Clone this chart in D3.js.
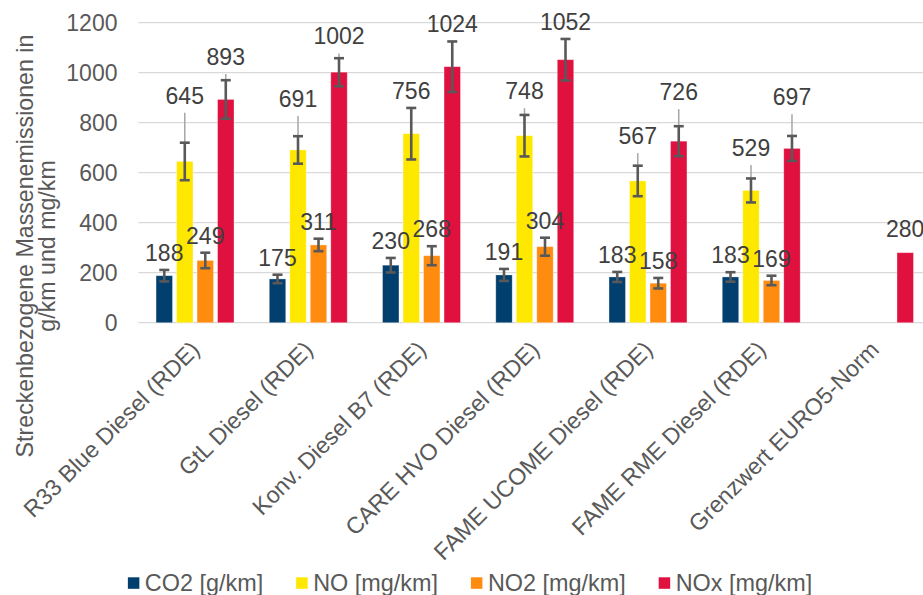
<!DOCTYPE html>
<html>
<head>
<meta charset="utf-8">
<script src="https://cdn.jsdelivr.net/npm/d3@7"></script>
<style>
  html, body { margin: 0; padding: 0; background: #fff; }
  svg { display: block; font-family: "Liberation Sans", Arial, sans-serif; }
</style>
</head>
<body>
<svg id="chart" width="923" height="595"></svg>
<script>
// Fuel variants (x categories)
const categories = [
  "R33 Blue Diesel (RDE)",
  "GtL Diesel (RDE)",
  "Konv. Diesel B7 (RDE)",
  "CARE HVO Diesel (RDE)",
  "FAME UCOME Diesel (RDE)",
  "FAME RME Diesel (RDE)",
  "Grenzwert EURO5-Norm"
];

// Series names shown in the legend
const seriesNames = ["CO2 [g/km]", "NO [mg/km]", "NO2 [mg/km]", "NOx [mg/km]"];
const seriesColors = ["#003f6e", "#ffe800", "#ff8c0f", "#e0103f"];

// Mean values per category
const co2 = [188, 175, 230, 191, 183, 183, null];
const no  = [645, 691, 756, 748, 567, 529, null];
const no2 = [249, 311, 268, 304, 158, 169, null];
const nox = [893, 1002, 1024, 1052, 726, 697, 280];

// Standard deviations (capped error bars)
const co2Err = [23, 17, 29, 24, 20, 19, null];
const noErr  = [75, 55, 103, 83, 61, 48, null];
const no2Err = [31, 25, 38, 36, 21, 19, null];
const noxErr = [77, 56, 101, 83, 60, 50, null];

// Maximum measured values (thin whisker above the bar)
const co2Max = [null, null, null, null, null, null, null];
const noMax  = [840, 827, null, 858, 678, 631, null];
const no2Max = [null, null, null, null, null, null, null];
const noxMax = [995, 1077, null, null, 854, 834, null];

const yTicks = [0, 200, 400, 600, 800, 1000, 1200];

const values = [co2, no, no2, nox];
const errors = [co2Err, noErr, no2Err, noxErr];
const maxima = [co2Max, noMax, no2Max, noxMax];

const svg = d3.select("#chart");

const y = d3.scaleLinear().domain([0, 1200]).range([322.7, 22.7]);
const x = d3.scaleBand().domain(categories).range([138.4, 931.1]).padding(0);
const xs = d3.scaleBand().domain(d3.range(4)).range([-41, 41])
  .paddingInner(0.2).paddingOuter(0.1);

// gridlines
svg.append("g").selectAll("line").data(yTicks).join("line")
  .attr("x1", 138.4).attr("x2", 923)
  .attr("y1", d => y(d)).attr("y2", d => y(d))
  .attr("stroke", "#d9d9d9").attr("stroke-width", 1.3);

// y tick labels
svg.append("g").selectAll("text").data(yTicks).join("text")
  .attr("x", 117.5).attr("y", d => y(d)).attr("dy", "0.36em")
  .attr("text-anchor", "end").attr("font-size", 23).attr("fill", "#595959")
  .text(d => d);

// y axis title
const yTitle = svg.append("text")
  .attr("transform", "translate(33,246) rotate(-90)")
  .attr("text-anchor", "middle").attr("font-size", 23.2).attr("fill", "#595959");
yTitle.append("tspan").attr("x", 0).attr("y", 0).text("Streckenbezogene Massenemissionen in");
yTitle.append("tspan").attr("x", 0).attr("y", 22).text("g/km und mg/km");

// flatten records
const records = [];
categories.forEach((c, ci) => {
  values.forEach((arr, si) => {
    if (arr[ci] == null) return;
    records.push({
      cat: c, s: si, v: arr[ci],
      err: errors[si][ci], max: maxima[si][ci]
    });
  });
});
const cx = d => x(d.cat) + x.bandwidth() / 2 + xs(d.s) + xs.bandwidth() / 2;

// bars
svg.append("g").selectAll("rect").data(records).join("rect")
  .attr("x", d => cx(d) - xs.bandwidth() / 2)
  .attr("width", xs.bandwidth())
  .attr("y", d => y(d.v))
  .attr("height", d => y(0) - y(d.v))
  .attr("fill", d => seriesColors[d.s])
  .attr("stroke", "rgba(255,255,255,0.35)").attr("stroke-width", 0.8);

// thin whiskers up to the maximum
svg.append("g").selectAll("line").data(records.filter(d => d.max != null)).join("line")
  .attr("x1", cx).attr("x2", cx)
  .attr("y1", d => y(d.v)).attr("y2", d => y(d.max))
  .attr("stroke", "#a6a6a6").attr("stroke-width", 1.5);

// capped error bars
const eb = svg.append("g").attr("stroke", "#595959").attr("stroke-width", 2.6)
  .selectAll("g").data(records.filter(d => d.err != null)).join("g");
eb.append("line")
  .attr("x1", cx).attr("x2", cx)
  .attr("y1", d => y(d.v - d.err)).attr("y2", d => y(d.v + d.err));
eb.append("line")
  .attr("x1", d => cx(d) - 5).attr("x2", d => cx(d) + 5)
  .attr("y1", d => y(d.v + d.err)).attr("y2", d => y(d.v + d.err));
eb.append("line")
  .attr("x1", d => cx(d) - 5).attr("x2", d => cx(d) + 5)
  .attr("y1", d => y(d.v - d.err)).attr("y2", d => y(d.v - d.err));

// value labels above the highest whisker
svg.append("g").selectAll("text").data(records).join("text")
  .attr("x", cx)
  .attr("y", d => {
    if (d.err == null && d.max == null) return y(d.v) - 16;
    const top = Math.max(d.v + (d.err || 0), d.max || 0);
    return y(top) - 9;
  })
  .attr("text-anchor", "middle").attr("font-size", 23).attr("fill", "#404040")
  .text(d => d.v);

// category labels, rotated
svg.append("g").selectAll("text").data(categories).join("text")
  .attr("transform", d => `translate(${x(d) + x.bandwidth() / 2 + 6},351) rotate(-45)`)
  .attr("text-anchor", "end").attr("font-size", 23.2).attr("fill", "#595959")
  .text(d => d);

// legend
const legend = svg.append("g");
const items = legend.selectAll("g").data(seriesNames).join("g");
items.append("rect").attr("width", 11.5).attr("height", 11.5).attr("y", 577.3)
  .attr("fill", (d, i) => seriesColors[i]);
items.append("text").attr("x", 17).attr("y", 591)
  .attr("font-size", 23.4).attr("fill", "#595959").text(d => d);
const widths = [];
items.each(function () {
  widths.push(17 + d3.select(this).select("text").node().getComputedTextLength());
});
const gap = 33;
const total = d3.sum(widths) + gap * (widths.length - 1);
let offset = 470 - total / 2;
items.each(function (d, i) {
  d3.select(this).attr("transform", `translate(${offset},0)`);
  offset += widths[i] + gap;
});
</script>
</body>
</html>
